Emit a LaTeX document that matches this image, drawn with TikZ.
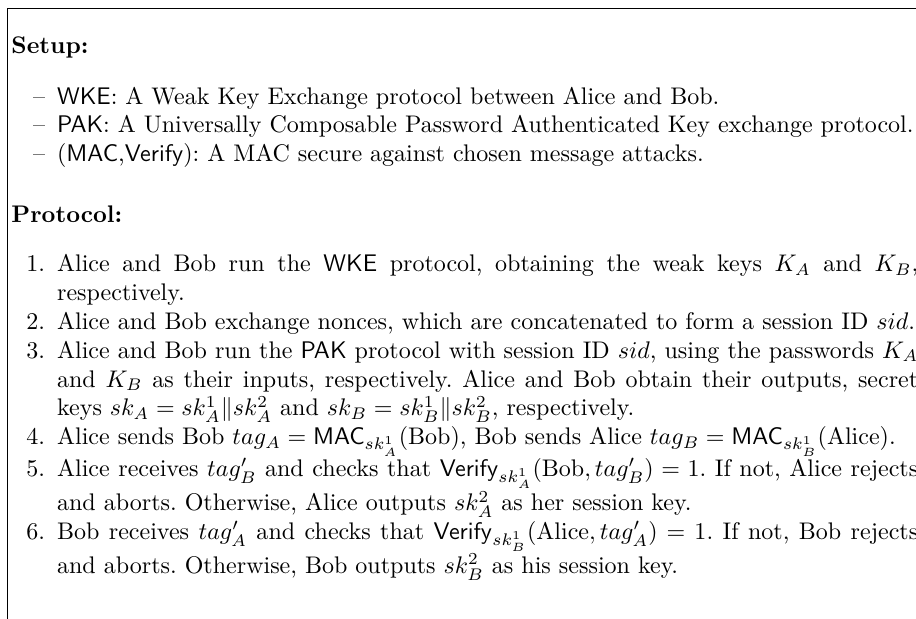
\documentclass[tikz,border=0pt]{standalone}
\usetikzlibrary{positioning}
\renewcommand{\labelitemi}{--}
\makeatletter
\def\@listI{\leftmargin\leftmargini \parsep\z@ \topsep\z@ \partopsep\z@ \itemsep\z@}
\let\@listi\@listI
\makeatother
\setlength{\leftmargini}{19pt}
\frenchspacing
\newcommand{\algo}[1]{\mathsf{#1}}
\begin{document}
\begin{tikzpicture}[
		x=0.4163pt, y=-0.4163pt,
		every node/.style={inner sep=0pt, anchor=base west},
		head/.style={font=\bfseries},
		frame/.style={line width=0.4pt}
	]
	\useasboundingbox (0,0) rectangle (916,618);
	\clip (0,0) rectangle (916,618);
	\draw[frame] (7,640) -- (7,8) -- (940,8);
	\node[head] (setup) at (11,53) {Setup:};
	\node (tools) at (11,104) {\begin{minipage}[t]{377.5pt}
		\begin{itemize}
			\item \textsf{WKE}: A Weak Key Exchange protocol between Alice and Bob.
			\item \textsf{PAK}: A Universally Composable Password Authenticated Key exchange protocol.
			\item (\textsf{MAC},\textsf{Verify}): A MAC secure against chosen message attacks.
		\end{itemize}
	\end{minipage}};
	\node[head] (protocol) at (11,222) {Protocol:};
	\node (steps) at (11,271.7) {\begin{minipage}[t]{377.5pt}
		\hyphenpenalty=10000
		\begin{enumerate}
			\item Alice and Bob run the \textsf{WKE} protocol, obtaining the weak keys $K_A$ and $K_B$,\linebreak respectively.
			\item Alice and Bob exchange nonces, which are concatenated to form a session ID $sid$.
			\item Alice and Bob run the \textsf{PAK} protocol with session ID $sid$, using the passwords $K_A$ and $K_B$ as their inputs, respectively. Alice and Bob obtain their outputs, secret keys $sk_A = sk_A^1\|sk_A^2$ and $sk_B = sk_B^1\|sk_B^2$, respectively.
			\item Alice sends Bob $tag_A = \algo{MAC}_{sk_A^1}(\mathrm{Bob})$, Bob sends Alice $tag_B = \algo{MAC}_{sk_B^1}(\mathrm{Alice})$.
			\item Alice receives $tag'_B$ and checks that $\algo{Verify}_{sk_A^1}(\mathrm{Bob}, tag'_B) = 1$. If not, Alice rejects and aborts. Otherwise, Alice outputs $sk_A^2$ as her session key.
			\item Bob receives $tag'_A$ and checks that $\algo{Verify}_{sk_B^1}(\mathrm{Alice}, tag'_A) = 1$. If not, Bob rejects and aborts. Otherwise, Bob outputs $sk_B^2$ as his session key.
		\end{enumerate}
	\end{minipage}};
\end{tikzpicture}
\end{document}
